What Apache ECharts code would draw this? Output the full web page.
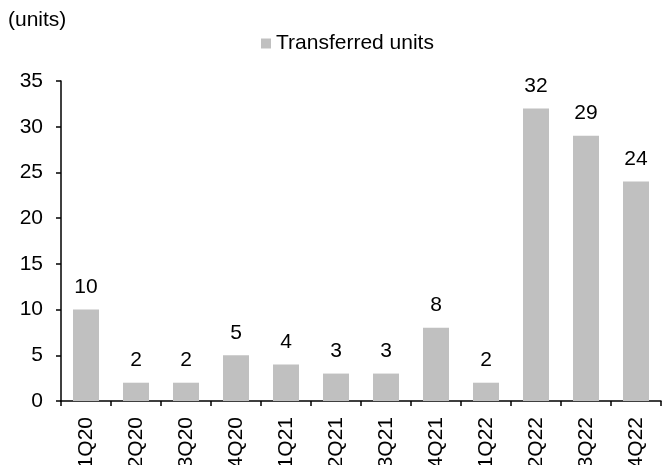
<!DOCTYPE html>
<html>
<head>
<meta charset="utf-8">
<title>Transferred units</title>
<script src="https://cdn.jsdelivr.net/npm/echarts@6/dist/echarts.min.js"></script>
<style>
    html, body { margin: 0; padding: 0; background: #fff; }
    #chart { width: 662px; height: 465px; }
</style>
</head>
<body>
<div id="chart"></div>
<script>
// data
var quarters = ['1Q20', '2Q20', '3Q20', '4Q20', '1Q21', '2Q21', '3Q21', '4Q21', '1Q22', '2Q22', '3Q22', '4Q22'];
var transferredUnits = [10, 2, 2, 5, 4, 3, 3, 8, 2, 32, 29, 24];
var seriesName = 'Transferred units';
var unitLabel = '(units)';
var yMin = 0, yMax = 35, yStep = 5;

var font = 'Liberation Sans, Arial, sans-serif';
var fontSize = 21;
var chart = echarts.init(document.getElementById('chart'));

var option = {
    animation: false,
    backgroundColor: '#fff',
    textStyle: { fontFamily: font },
    graphic: [{
        type: 'text',
        left: 8,
        top: 10,
        style: { text: unitLabel, font: fontSize + 'px ' + font, fill: '#000' }
    }],
    legend: {
        data: [seriesName],
        top: 28,
        left: 256,
        itemWidth: 10,
        itemHeight: 10,
        itemGap: 8,
        icon: 'rect',
        textStyle: { fontSize: fontSize, color: '#000', fontFamily: font }
    },
    // labels run off the bottom edge like in the source, so don't let the grid shrink
    grid: { left: 61, right: 1, top: 81, bottom: 64, containLabel: false, outerBoundsMode: 'none' },
    xAxis: {
        type: 'category',
        data: quarters,
        axisLine: { lineStyle: { color: '#000', width: 1.5 } },
        axisTick: { show: true, length: 5, alignWithLabel: false, lineStyle: { color: '#000', width: 1.5 } },
        axisLabel: { rotate: 90, margin: 16, fontSize: fontSize, color: '#000', fontFamily: font, interval: 0 }
    },
    yAxis: {
        type: 'value',
        min: yMin,
        max: yMax,
        interval: yStep,
        axisLine: { show: true, lineStyle: { color: '#000', width: 1.5 } },
        axisTick: { show: true, length: 5, lineStyle: { color: '#000', width: 1.5 } },
        axisLabel: { fontSize: fontSize, color: '#000', fontFamily: font, margin: 18 },
        splitLine: { show: false }
    },
    series: [{
        name: seriesName,
        type: 'bar',
        data: transferredUnits,
        barWidth: 26,
        itemStyle: { color: '#c0c0c0' },
        label: {
            show: true,
            position: 'top',
            distance: 12,
            fontSize: fontSize,
            color: '#000',
            fontFamily: font
        }
    }]
};
chart.setOption(option);
</script>
</body>
</html>
